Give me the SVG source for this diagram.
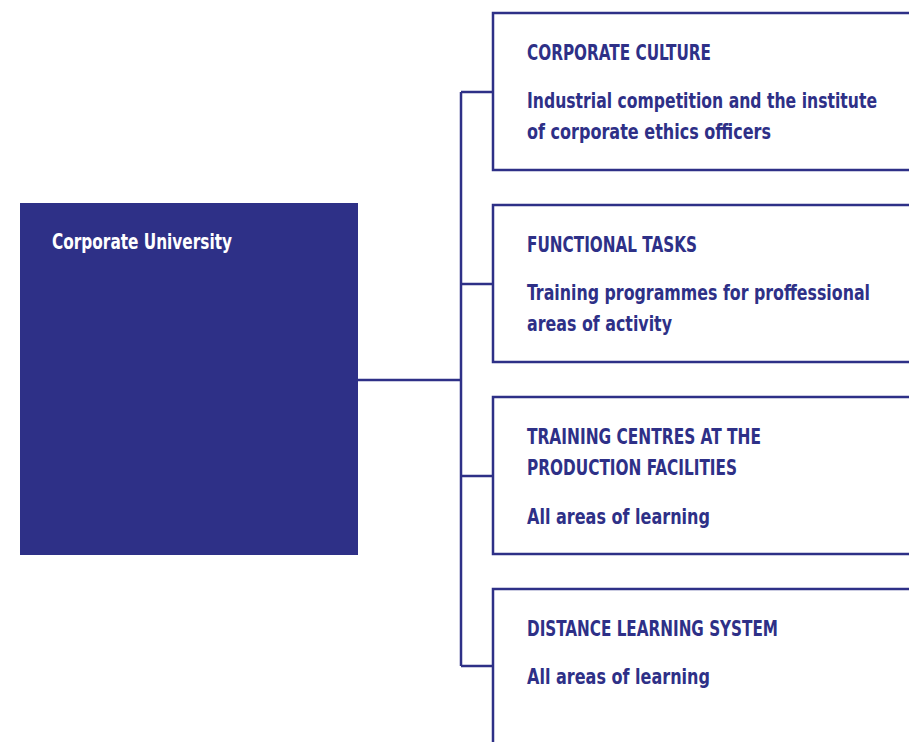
<svg xmlns="http://www.w3.org/2000/svg" width="909" height="742" viewBox="0 0 909 742">
<style>
.box{fill:#ffffff;stroke:#2e3087;stroke-width:2.5}
.ln{fill:none;stroke:#2e3087;stroke-width:2.5}
text{font-family:"DejaVu Sans Condensed","Liberation Sans Narrow","Liberation Sans",sans-serif;font-weight:bold;font-size:20.5px;fill:#2e3087}
.w{fill:#ffffff}
</style>
<rect width="909" height="742" fill="#ffffff"/>
<g id="connectors">
<path class="ln" d="M358 380H461M461 92V666M461 92H493M461 284H493M461 476H493M461 666H493"/>
</g>
<g id="node-university">
<rect x="20" y="203" width="338" height="352" fill="#2e3087"/>
<text class="w" x="52" y="249" textLength="180" lengthAdjust="spacingAndGlyphs">Corporate University</text>
</g>
<g id="node-culture">
<rect class="box" x="493" y="13" width="430" height="157"/>
<text x="527" y="60" textLength="184" lengthAdjust="spacingAndGlyphs">CORPORATE CULTURE</text>
<text x="527" y="108" textLength="350" lengthAdjust="spacingAndGlyphs">Industrial competition and the institute</text>
<text x="527" y="139" textLength="244" lengthAdjust="spacingAndGlyphs">of corporate ethics officers</text>
</g>
<g id="node-functional">
<rect class="box" x="493" y="205" width="430" height="157"/>
<text x="527" y="252" textLength="170" lengthAdjust="spacingAndGlyphs">FUNCTIONAL TASKS</text>
<text x="527" y="300" textLength="343" lengthAdjust="spacingAndGlyphs">Training programmes for proffessional</text>
<text x="527" y="331" textLength="145" lengthAdjust="spacingAndGlyphs">areas of activity</text>
</g>
<g id="node-training">
<rect class="box" x="493" y="397" width="430" height="157"/>
<text x="527" y="444" textLength="234" lengthAdjust="spacingAndGlyphs">TRAINING CENTRES AT THE</text>
<text x="527" y="475" textLength="210" lengthAdjust="spacingAndGlyphs">PRODUCTION FACILITIES</text>
<text x="527" y="524" textLength="183" lengthAdjust="spacingAndGlyphs">All areas of learning</text>
</g>
<g id="node-distance">
<rect class="box" x="493" y="589" width="430" height="170"/>
<text x="527" y="636" textLength="251" lengthAdjust="spacingAndGlyphs">DISTANCE LEARNING SYSTEM</text>
<text x="527" y="684" textLength="183" lengthAdjust="spacingAndGlyphs">All areas of learning</text>
</g>
</svg>
